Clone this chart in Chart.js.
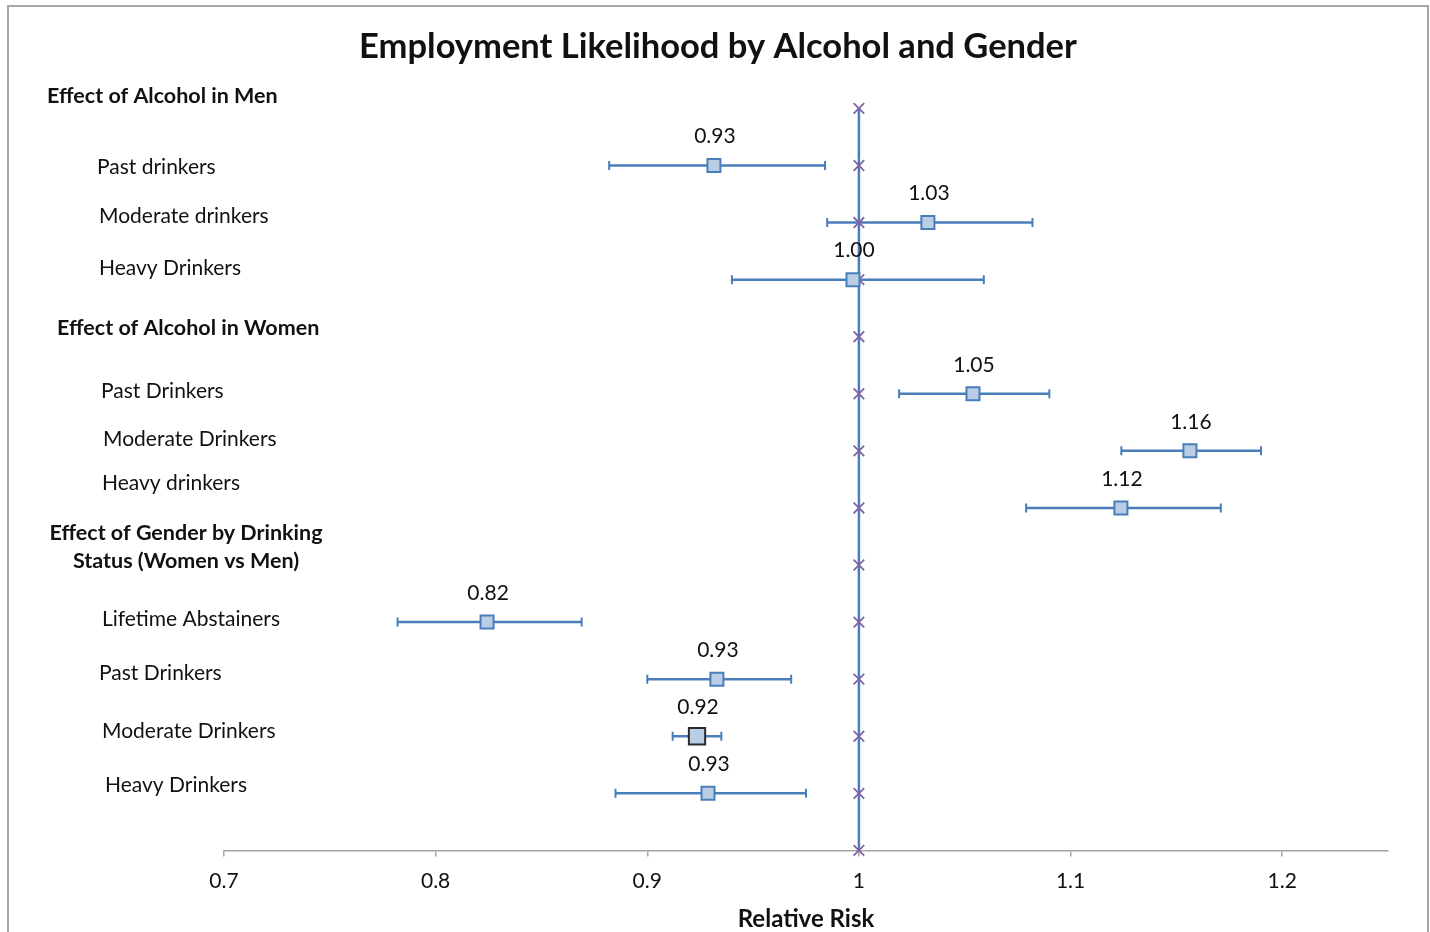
<!DOCTYPE html>
<html>
<head>
<meta charset="utf-8">
<title>Employment Likelihood by Alcohol and Gender</title>
<script src="https://cdn.jsdelivr.net/npm/chart.js@4.4.1/dist/chart.umd.min.js"></script>
<style>
  html, body { margin: 0; padding: 0; background: #ffffff; }
  #wrap { position: relative; width: 1430px; height: 932px; }
</style>
</head>
<body>
<div id="wrap"><canvas id="chart"></canvas></div>
<script>
// ---- Data ----------------------------------------------------------------
// Row labels shown at the left, top to bottom, and the row each one sits on
const rowLabels = [
  'Effect of Alcohol in Men',
  'Past drinkers',
  'Moderate drinkers',
  'Heavy Drinkers',
  'Effect of Alcohol in Women',
  'Past Drinkers',
  'Moderate Drinkers',
  'Heavy drinkers',
  ['Effect of Gender by Drinking', 'Status (Women vs Men)'],
  'Lifetime Abstainers',
  'Past Drinkers',
  'Moderate Drinkers',
  'Heavy Drinkers'
];
const labelRows = [13, 12, 11, 10, 9, 8, 7, 6, 5, 4, 3, 2, 1];
const headingRows = [13, 9, 5];

// Relative-risk estimates and 95% confidence limits per row
const estimateRows = [12, 11, 10, 8, 7, 6, 4, 3, 2, 1];
const relativeRisk = [0.9315, 1.0326, 0.9972, 1.0539, 1.1564, 1.1238, 0.8243, 0.9329, 0.9235, 0.9287];
const lowerCI      = [0.882, 0.985, 0.940, 1.019, 1.124, 1.079, 0.782, 0.900, 0.912, 0.885];
const upperCI      = [0.984, 1.082, 1.059, 1.090, 1.190, 1.171, 0.869, 0.968, 0.935, 0.975];

// Reference line at RR = 1, marked at every row
const referenceRows = [0, 1, 2, 3, 4, 5, 6, 7, 8, 9, 10, 11, 12, 13];
const referenceValue = 1;

// x-axis ticks
const tickValues = [0.7, 0.8, 0.9, 1, 1.1, 1.2];
const tickLabels = ['0.7', '0.8', '0.9', '1', '1.1', '1.2'];

// ---- Layout / style (not data) ------------------------------------------
const FONT = "Lato, 'Open Sans', 'DejaVu Sans', sans-serif";
const BLUE = '#4a7ebb';
const TEXT = '#111111';
// left edge (or centre for the two-line heading) and vertical nudge for each row label
const labelLayout = [
  { x: 47, dy: -12 }, { x: 97, dy: 2 }, { x: 99, dy: -6 }, { x: 99, dy: -11 },
  { x: 57, dy: -9 }, { x: 101, dy: -3 }, { x: 103, dy: -12 }, { x: 102, dy: -25 },
  { x: 186, dy: -18, center: true }, { x: 102, dy: -3 }, { x: 99, dy: -6 },
  { x: 102, dy: -5 }, { x: 105, dy: -8 }
];
const HIGHLIGHT_INDEX = 8; // the emphasised marker (Moderate Drinkers, women vs men)

const estimatePoints = relativeRisk.map((v, i) => ({ x: v, y: estimateRows[i] }));
const referencePoints = referenceRows.map(r => ({ x: referenceValue, y: r }));

// Outer frame around the figure
const framePlugin = {
  id: 'frame',
  beforeDraw(chart) {
    const ctx = chart.ctx;
    ctx.save();
    ctx.fillStyle = '#ffffff';
    ctx.fillRect(0, 0, chart.width, chart.height);
    ctx.strokeStyle = '#a6a6a6';
    ctx.lineWidth = 2;
    ctx.strokeRect(8, 6, 1420, 960);
    ctx.restore();
  }
};

// Horizontal confidence-interval bars with end caps
const errorBarPlugin = {
  id: 'errorBars',
  beforeDatasetsDraw(chart) {
    const { ctx, scales: { x, y } } = chart;
    ctx.save();
    ctx.strokeStyle = BLUE;
    estimateRows.forEach((row, i) => {
      const py = y.getPixelForValue(row);
      const x0 = x.getPixelForValue(lowerCI[i]);
      const x1 = x.getPixelForValue(upperCI[i]);
      ctx.lineWidth = 2.5;
      ctx.beginPath();
      ctx.moveTo(x0, py);
      ctx.lineTo(x1, py);
      ctx.stroke();
      ctx.lineWidth = 2;
      ctx.beginPath();
      ctx.moveTo(x0, py - 4.5); ctx.lineTo(x0, py + 4.5);
      ctx.moveTo(x1, py - 4.5); ctx.lineTo(x1, py + 4.5);
      ctx.stroke();
    });
    ctx.restore();
  }
};

// Value labels above markers and the row labels at the left
const textPlugin = {
  id: 'texts',
  afterDatasetsDraw(chart) {
    const { ctx, scales: { x, y } } = chart;
    ctx.save();
    ctx.fillStyle = TEXT;
    ctx.textBaseline = 'middle';
    ctx.textAlign = 'center';
    ctx.font = '21px ' + FONT;
    relativeRisk.forEach((v, i) => {
      ctx.fillText(v.toFixed(2), x.getPixelForValue(v) + 1, y.getPixelForValue(estimateRows[i]) - 29);
    });
    rowLabels.forEach((lab, i) => {
      const lay = labelLayout[i];
      const bold = headingRows.includes(labelRows[i]);
      ctx.font = (bold ? 'bold 21.5px ' : '21px ') + FONT;
      ctx.textAlign = lay.center ? 'center' : 'left';
      const py = y.getPixelForValue(labelRows[i]) + lay.dy;
      const lines = Array.isArray(lab) ? lab : [lab];
      lines.forEach((ln, k) => {
        ctx.fillText(ln, lay.x, py + (k - (lines.length - 1) / 2) * 28);
      });
    });
    ctx.restore();
  }
};

// Invisible side axes reserve the left label margin and the right margin,
// so the full-width title is centred on the whole figure.
const sideAxis = (pos, w) => ({
  type: 'linear',
  position: pos,
  display: true,
  min: 0,
  max: 13,
  ticks: { display: false },
  grid: { display: false },
  border: { display: false },
  afterFit: axis => { axis.width = w; }
});

new Chart(document.getElementById('chart'), {
  type: 'scatter',
  data: {
    datasets: [
      {
        label: 'Relative risk',
        data: estimatePoints,
        order: 1,
        showLine: false,
        pointStyle: 'rect',
        pointRadius: ctx => ctx.dataIndex === HIGHLIGHT_INDEX ? 11.5 : 9.2,
        pointBackgroundColor: '#b9cde5',
        pointBorderColor: ctx => ctx.dataIndex === HIGHLIGHT_INDEX ? '#2b2b2b' : BLUE,
        pointBorderWidth: 2,
        clip: false
      },
      {
        label: 'Reference',
        data: referencePoints,
        order: 2,
        showLine: true,
        borderColor: BLUE,
        borderWidth: 2.5,
        pointStyle: 'crossRot',
        pointRadius: 7.5,
        pointBorderColor: '#8064a2',
        pointBorderWidth: 1.8,
        clip: false
      }
    ]
  },
  options: {
    responsive: true,
    maintainAspectRatio: false,
    animation: false,
    events: [],
    layout: { padding: { left: 6, right: 0, top: 17, bottom: 0 } },
    plugins: {
      legend: { display: false },
      tooltip: { enabled: false },
      title: {
        display: true,
        text: 'Employment Likelihood by Alcohol and Gender',
        color: TEXT,
        font: { family: FONT, size: 34.5, weight: 'bold' },
        padding: { top: 9, bottom: 41 }
      }
    },
    scales: {
      x: {
        type: 'linear',
        min: 0.7,
        max: 1.25,
        afterBuildTicks: axis => { axis.ticks = tickValues.map(v => ({ value: v })); },
        ticks: {
          color: TEXT,
          font: { family: FONT, size: 21 },
          padding: 12,
          maxRotation: 0,
          callback: (value) => {
            const i = tickValues.findIndex(t => Math.abs(t - value) < 1e-9);
            return i >= 0 ? tickLabels[i] : '';
          }
        },
        grid: { drawOnChartArea: false, drawTicks: true, tickLength: 6, color: '#a6a6a6', lineWidth: 1.5 },
        border: { display: true, color: '#a6a6a6', width: 1.5 },
        title: {
          display: true,
          text: 'Relative Risk',
          color: TEXT,
          font: { family: FONT, size: 24, weight: 'bold', lineHeight: 1.1 },
          padding: { top: 0, bottom: 0 }
        }
      },
      y: sideAxis('left', 218),
      y2: sideAxis('right', 42)
    }
  },
  plugins: [framePlugin, errorBarPlugin, textPlugin]
});
</script>
</body>
</html>
